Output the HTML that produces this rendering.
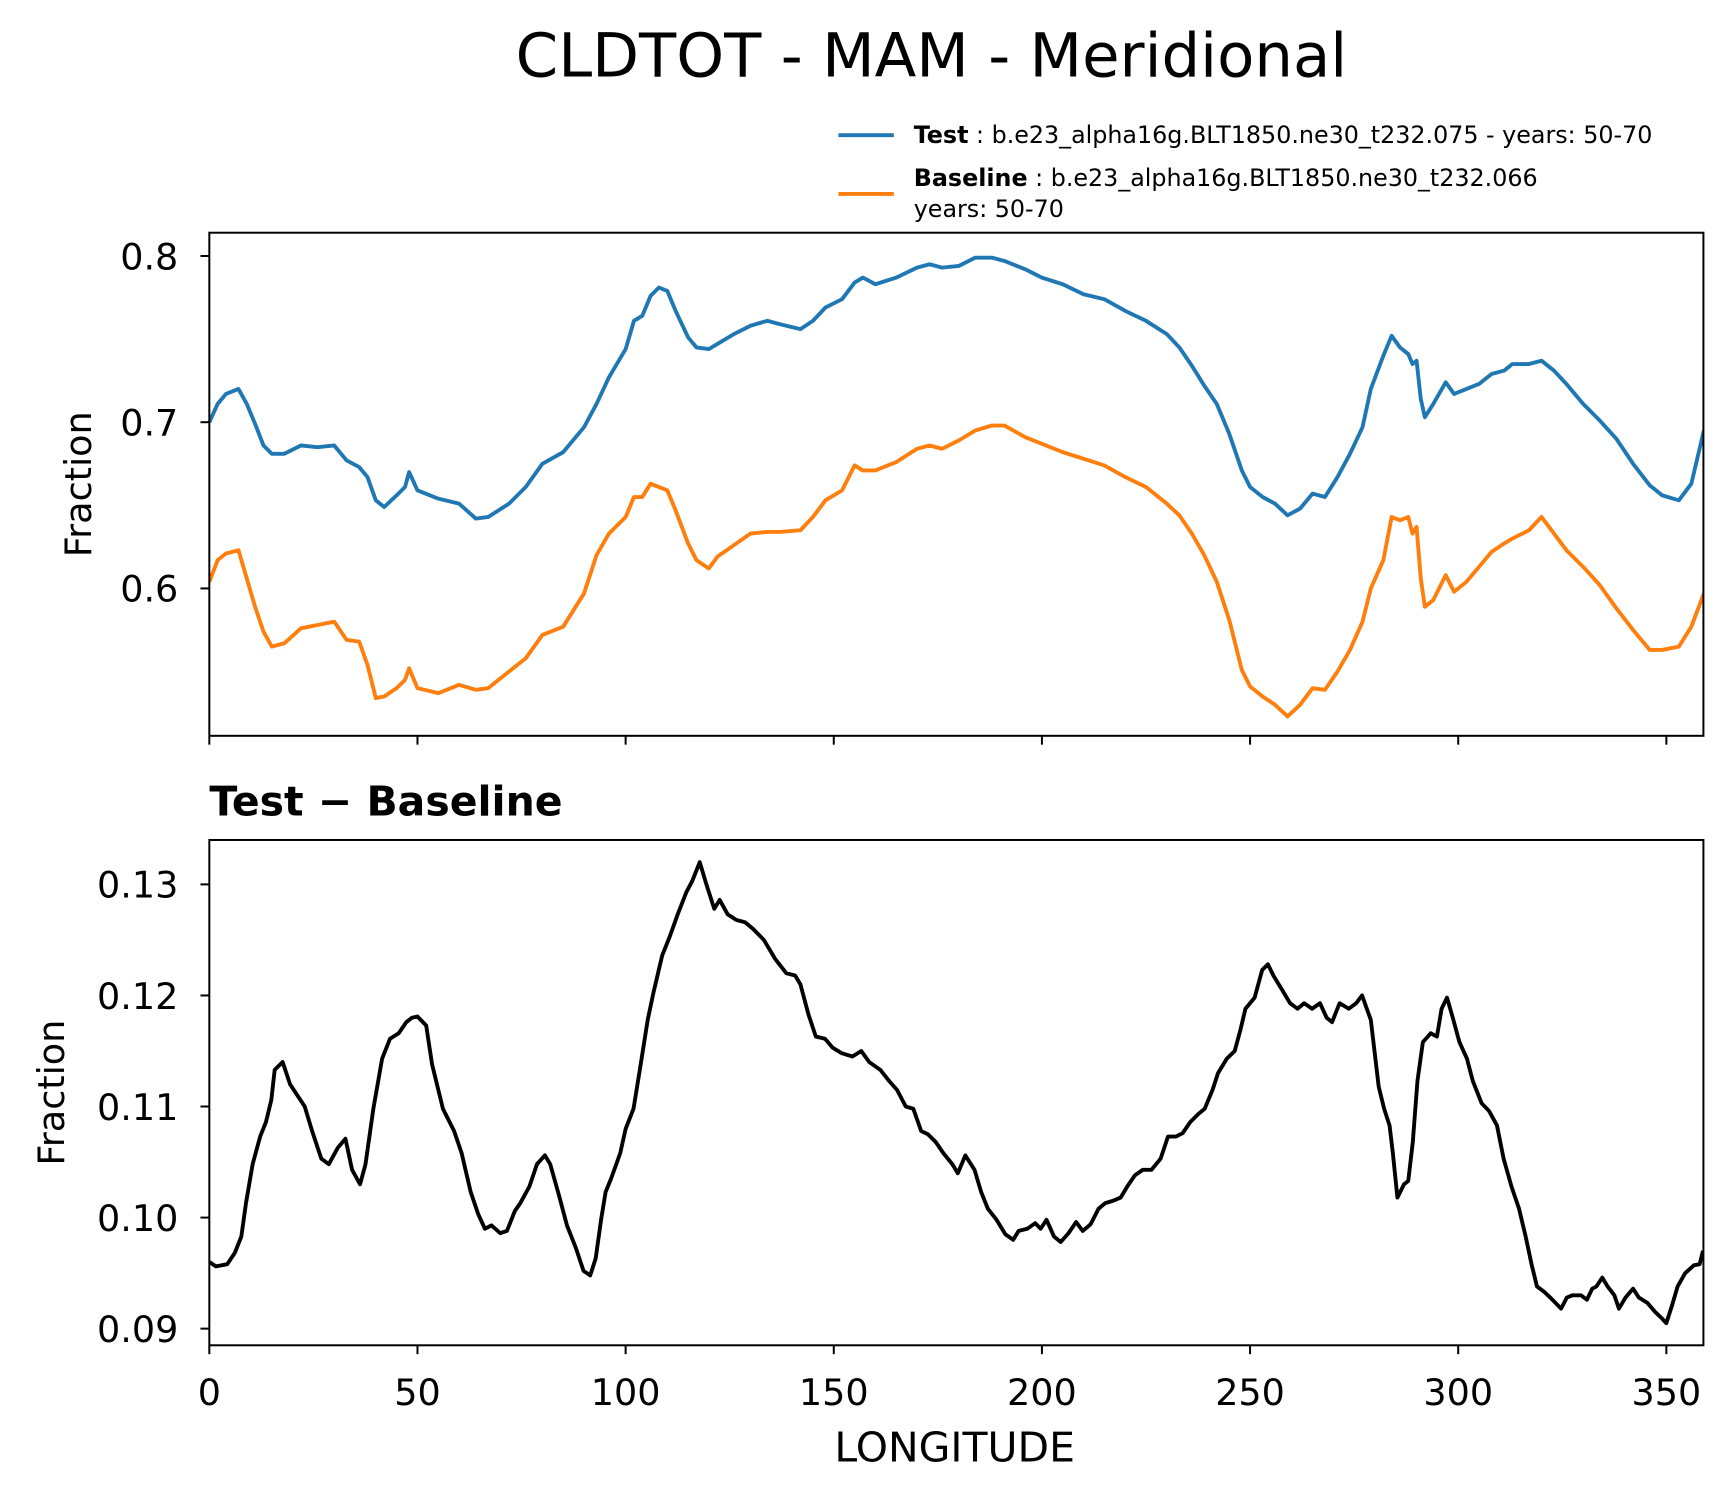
<!DOCTYPE html>
<html><head><meta charset="utf-8"><style>
html,body{margin:0;padding:0;background:#fff;}
svg{display:block;font-family:"DejaVu Sans","Liberation Sans",sans-serif;}
</style></head><body>
<svg id="chart" width="1730" height="1496" viewBox="0 0 1562 1350" preserveAspectRatio="none" xmlns="http://www.w3.org/2000/svg">
<rect x="0" y="0" width="1562" height="1350" fill="#fff"/>
<text x="841" y="69" font-size="55" text-anchor="middle">CLDTOT - MAM - Meridional</text>
<g>
<line x1="757" y1="122" x2="807" y2="122" stroke="#1f77b4" stroke-width="3.5"/>
<text x="825" y="129" font-size="21.5"><tspan font-weight="bold">Test</tspan> : b.e23_alpha16g.BLT1850.ne30_t232.075 - years: 50-70</text>
<line x1="757" y1="175" x2="807" y2="175" stroke="#ff7f0e" stroke-width="3.5"/>
<text x="825" y="168" font-size="21.5"><tspan font-weight="bold">Baseline</tspan> : b.e23_alpha16g.BLT1850.ne30_t232.066</text>
<text x="825" y="196" font-size="21.5">years: 50-70</text>
</g>
<g id="top"></g>
<text x="189" y="736" font-size="37" font-weight="bold">Test − Baseline</text>
<g id="bot"></g>
<text x="862" y="1319" font-size="37" text-anchor="middle">LONGITUDE</text>
</svg>
<script>
const xTicks=[0,50,100,150,200,250,300,350];
const topYTicks=[0.6,0.7,0.8];
const topYLabels=["0.6","0.7","0.8"];
const botYTicks=[0.09,0.10,0.11,0.12,0.13];
const botYLabels=["0.09","0.10","0.11","0.12","0.13"];
const topLon=[0,2,4,7,9,11,13,15,18,22,26,30,33,36,38,40,42,45,47,48,50,55,60,64,67,72,76,80,85,90,93,96,100,102,104,106,108,110,112,115,117,120,122,126,130,134,137,142,145,148,152,155,157,160,165,170,173,176,180,184,188,191,196,200,205,210,215,220,225,230,233,236,239,242,245,248,250,253,256,259,262,265,268,271,274,277,279,282,284,286,288,289,290,291,292,294,297,299,302,305,308,311,313,317,320,323,326,330,334,338,342,346,349,353,356,359];
const testVals=[.700,.711,.717,.720,.711,.699,.686,.681,.681,.686,.685,.686,.677,.673,.667,.653,.649,.656,.661,.670,.659,.654,.651,.642,.643,.651,.661,.675,.682,.697,.711,.727,.744,.761,.764,.776,.781,.779,.767,.751,.745,.744,.747,.753,.758,.761,.759,.756,.761,.769,.774,.784,.787,.783,.787,.793,.795,.793,.794,.799,.799,.797,.792,.787,.783,.777,.774,.767,.761,.753,.745,.734,.722,.711,.693,.671,.661,.655,.651,.644,.648,.657,.655,.667,.681,.697,.720,.740,.752,.745,.741,.735,.737,.714,.703,.711,.724,.717,.720,.723,.729,.731,.735,.735,.737,.731,.723,.711,.701,.690,.675,.662,.656,.653,.663,.695];
const baseVals=[.604,.617,.621,.623,.606,.589,.574,.565,.567,.576,.578,.580,.569,.568,.554,.534,.535,.540,.545,.552,.540,.537,.542,.539,.540,.550,.558,.572,.577,.597,.620,.633,.643,.655,.655,.663,.661,.659,.647,.627,.617,.612,.619,.626,.633,.634,.634,.635,.643,.653,.659,.674,.671,.671,.676,.684,.686,.684,.689,.695,.698,.698,.691,.687,.682,.678,.674,.667,.661,.651,.644,.633,.620,.604,.581,.551,.541,.535,.530,.523,.530,.540,.539,.550,.563,.580,.600,.617,.643,.641,.643,.633,.637,.606,.589,.593,.608,.598,.604,.613,.622,.627,.630,.635,.643,.633,.623,.613,.602,.588,.575,.563,.563,.565,.577,.597];
const diffLon=[0,1.6,4.3,6.1,7.7,8.8,10.4,12.2,13.6,14.9,15.7,17.6,19.4,22.9,24.7,26.9,28.7,30.9,32.7,34.3,36.2,37.5,39.4,41.5,43.4,45.5,47.3,48.7,50,52.1,53.5,56.1,58.8,60.6,62.8,64.6,66.2,67.8,69.9,71.5,73.4,74.7,76.9,78.7,80.6,81.9,84,85.9,88,89.9,91.5,92.8,94.1,95.2,96.5,98.7,100,101.9,103.5,105.3,106.7,108.8,110.6,112.5,114.6,116,117.8,119.4,121.3,122.6,124.5,126.6,128.7,130.6,133.2,135.9,138.6,140.7,142,143.9,145.7,147.9,149.7,151.9,154.5,156.6,158.5,161.2,163.3,165.2,167.3,169.1,171,172.6,174.5,176.3,178.5,179.8,181.6,183.8,185.4,187,189.1,191.2,193.1,194.4,196.5,198.4,199.7,201.1,202.9,204.5,206.4,208.2,209.8,211.7,213.6,215.2,217,218.9,220.5,222.3,224.2,226.3,228.5,230.3,232.2,233.8,235.6,237.5,239.1,241,242.3,244.4,246.3,247.6,248.9,251.1,252.9,254.3,255.6,257.7,259.6,261.4,263,264.9,266.8,268.4,269.7,271.5,273.7,275.5,276.9,279,280.9,282.2,283.5,284.3,285.4,287,288,289.1,290.2,291.5,293.4,294.9,296,297.3,298.7,300.3,302.1,303.5,305.6,307.4,309.3,310.9,312.8,314.6,316.2,317.6,318.9,320.7,322.1,323.4,324.7,326.1,327.4,329.5,330.9,332.2,333.2,334.6,335.9,337.5,338.6,340.2,342,343.4,345.5,347.3,348.7,350,351.3,352.7,354.5,356.6,358,358.8];
const diffVals=[.0960,.0956,.0958,.0968,.0983,.1013,.1048,.1073,.1086,.1106,.1133,.1140,.1120,.1100,.1078,.1053,.1048,.1063,.1071,.1043,.1030,.1048,.1098,.1143,.1161,.1166,.1176,.1180,.1181,.1173,.1138,.1098,.1078,.1058,.1023,.1003,.0990,.0993,.0986,.0988,.1006,.1013,.1028,.1048,.1056,.1048,.1020,.0993,.0973,.0952,.0948,.0963,.0998,.1023,.1035,.1058,.1080,.1098,.1135,.1178,.1203,.1236,.1253,.1273,.1293,.1303,.1320,.1300,.1278,.1286,.1273,.1268,.1266,.1260,.1250,.1233,.1220,.1218,.1210,.1183,.1163,.1161,.1153,.1148,.1145,.1150,.1140,.1133,.1123,.1115,.1100,.1098,.1078,.1075,.1068,.1058,.1048,.1040,.1056,.1043,.1023,.1008,.0998,.0985,.0980,.0988,.0990,.0995,.0990,.0998,.0983,.0978,.0986,.0996,.0988,.0994,.1008,.1013,.1015,.1018,.1028,.1038,.1043,.1043,.1053,.1073,.1073,.1076,.1086,.1093,.1098,.1115,.1130,.1143,.1150,.1168,.1188,.1198,.1223,.1228,.1218,.1205,.1193,.1188,.1193,.1188,.1193,.1180,.1176,.1193,.1188,.1193,.1200,.1178,.1118,.1098,.1083,.1058,.1018,.1030,.1033,.1068,.1123,.1158,.1166,.1163,.1188,.1198,.1180,.1158,.1143,.1123,.1103,.1096,.1083,.1053,.1028,.1008,.0983,.0958,.0938,.0933,.0928,.0923,.0918,.0928,.0930,.0930,.0926,.0936,.0938,.0946,.0938,.0930,.0918,.0928,.0936,.0928,.0923,.0915,.0910,.0905,.0920,.0938,.0950,.0957,.0958,.0970];

const NS='http://www.w3.org/2000/svg';
const X0=189,X1=1538,XMIN=0,XMAX=358.9;
function xs(v){return X0+(v-XMIN)/(XMAX-XMIN)*(X1-X0);}
function mk(tag,attrs,parent){const e=document.createElementNS(NS,tag);for(const k in attrs)e.setAttribute(k,attrs[k]);parent.appendChild(e);return e;}
function panel(g,top,bot,ymin,ymax,yt,yl,showX,ylabelX,prefix){
  const ys=v=>bot-(v-ymin)/(ymax-ymin)*(bot-top);
  yt.forEach((t,i)=>{
    const y=ys(t);
    const tk=mk('line',{x1:X0-8,x2:X0,y1:y,y2:y,stroke:'#000','stroke-width':1.8},g);
    
    
    const tx=mk('text',{x:X0-28,y:y+12,'font-size':33,'text-anchor':'end'},g);
    tx.textContent=yl[i];
    
    
  });
  xTicks.forEach(t=>{
    const x=xs(t);
    const tk=mk('line',{x1:x,x2:x,y1:bot,y2:bot+8,stroke:'#000','stroke-width':1.8},g);
    
    
    if(showX){
      const tx=mk('text',{x:x,y:bot+54,'font-size':33,'text-anchor':'middle'},g);
      tx.textContent=String(t);
      
      
    }
  });
  const yc=(top+bot)/2;
  const lab=mk('text',{x:ylabelX,y:yc,'font-size':33,'text-anchor':'middle',transform:'rotate(-90 '+ylabelX+' '+yc+')'},g);
  lab.textContent='Fraction';
  
  
  return ys;
}
function series(g,lon,vals,ys,color,name,top,bot){
  const cid='clip-'+name;
  const cp=mk('clipPath',{id:cid},g);
  mk('rect',{x:X0,y:top,width:X1-X0,height:bot-top},cp);
  const d=lon.map((l,i)=>(i?'L':'M')+xs(l).toFixed(1)+','+ys(vals[i]).toFixed(1)).join('');
  const p=mk('path',{d:d,fill:'none',stroke:color,'stroke-width':3.5,'stroke-linejoin':'round','clip-path':'url(#'+cid+')'},g);
  
  
}
const gt=document.getElementById('top');


const T0=210,T1=664;
const ysT=panel(gt,T0,T1,0.6-(T1-531)/1500,0.8+(231-T0)/1500,topYTicks,topYLabels,false,82,'top');
series(gt,topLon,baseVals,ysT,'#ff7f0e','baseline-line',T0,T1);
series(gt,topLon,testVals,ysT,'#1f77b4','test-line',T0,T1);
const ft=mk('rect',{x:X0,y:T0,width:X1-X0,height:T1-T0,fill:'none',stroke:'#000','stroke-width':1.8},gt);


const gb=document.getElementById('bot');


const B0=758,B1=1214;
const ysB=panel(gb,B0,B1,0.09-(B1-1199)/10000,0.13+(798-B0)/10000,botYTicks,botYLabels,true,58,'diff');
series(gb,diffLon,diffVals,ysB,'#000','diff-line',B0,B1);
const fb=mk('rect',{x:X0,y:B0,width:X1-X0,height:B1-B0,fill:'none',stroke:'#000','stroke-width':1.8},gb);


</script>
</body></html>
